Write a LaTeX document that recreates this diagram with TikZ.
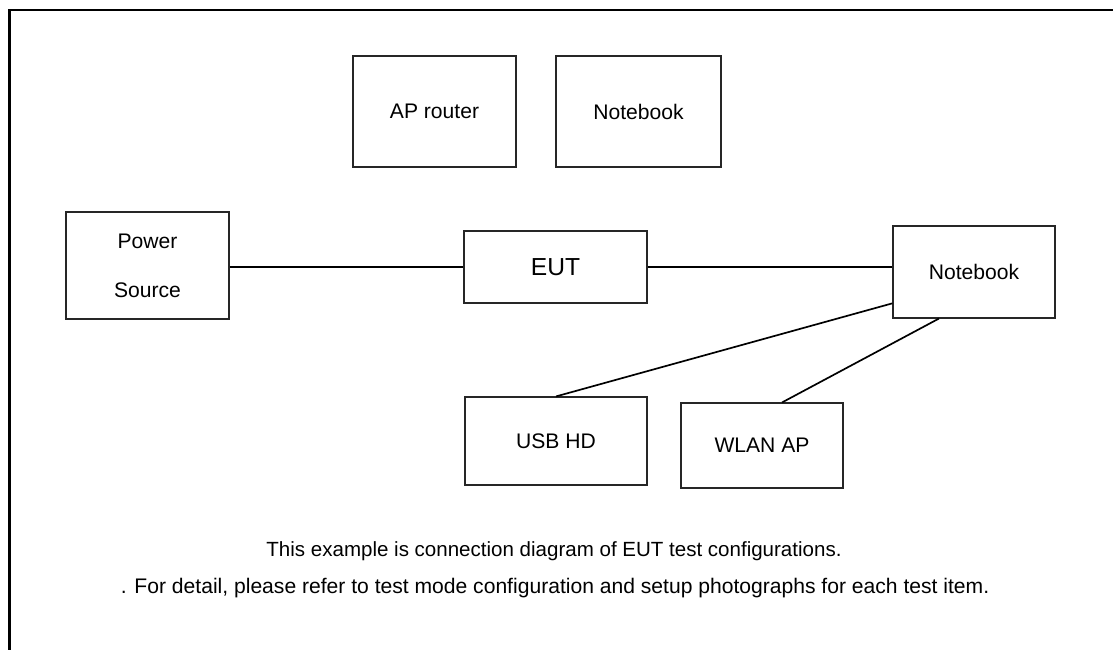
\documentclass[tikz,border=0pt]{standalone}
\usepackage{fontspec}
\setmainfont{Liberation Sans}

\begin{document}
\begin{tikzpicture}[
    x=0.025cm, y=-0.025cm,
    box/.style={
        rectangle,
        draw=black!85,
        line width=0.8pt,
        inner sep=0pt,
        font=\fontsize{15}{18}\selectfont,
        align=center
    },
    wire/.style={line width=1.2pt}
]
\useasboundingbox (0,0) rectangle (1113,650);

% frame
\draw[line width=2.1pt] (9.5,650) -- (9.5,10) -- (1113,10);

\node[box, minimum width=4.075cm, minimum height=2.775cm] (ap) at (434.5,111.5) {AP router};
\node[box, minimum width=4.125cm, minimum height=2.775cm] (nbtop) at (638.5,111.5) {Notebook};
\node[box, minimum width=4.075cm, minimum height=2.675cm, font=\fontsize{15}{34.7}\selectfont] (power) at (147.5,265.5) {Power\\Source};
\node[box, minimum width=4.575cm, minimum height=1.8cm, font=\fontsize{17.5}{20}\selectfont] (eut) at (555.5,267) {EUT};
\node[box, minimum width=4.05cm, minimum height=2.3cm] (nb) at (974,272) {Notebook};
\node[box, minimum width=4.55cm, minimum height=2.2cm] (usb) at (556,441) {USB HD};
\node[box, minimum width=4.05cm, minimum height=2.125cm] (wlan) at (762,445.5) {WLAN AP};

\draw[wire] (eut.west -| power.east) -- (eut.west);
\draw[wire] (eut.east) -- (eut.east -| nb.west);
\draw[wire] (nb.201) -- (usb.north);
\draw[wire] (nb.233) -- (wlan.65);

\node[font=\fontsize{14.6}{18}\selectfont] (note1) at (554,551) {This example is connection diagram of EUT test configurations.};
\node[font=\fontsize{15}{18}\selectfont] (note2) at (555,588) {. For detail, please refer to test mode configuration and setup photographs for each test item.};

\end{tikzpicture}
\end{document}
